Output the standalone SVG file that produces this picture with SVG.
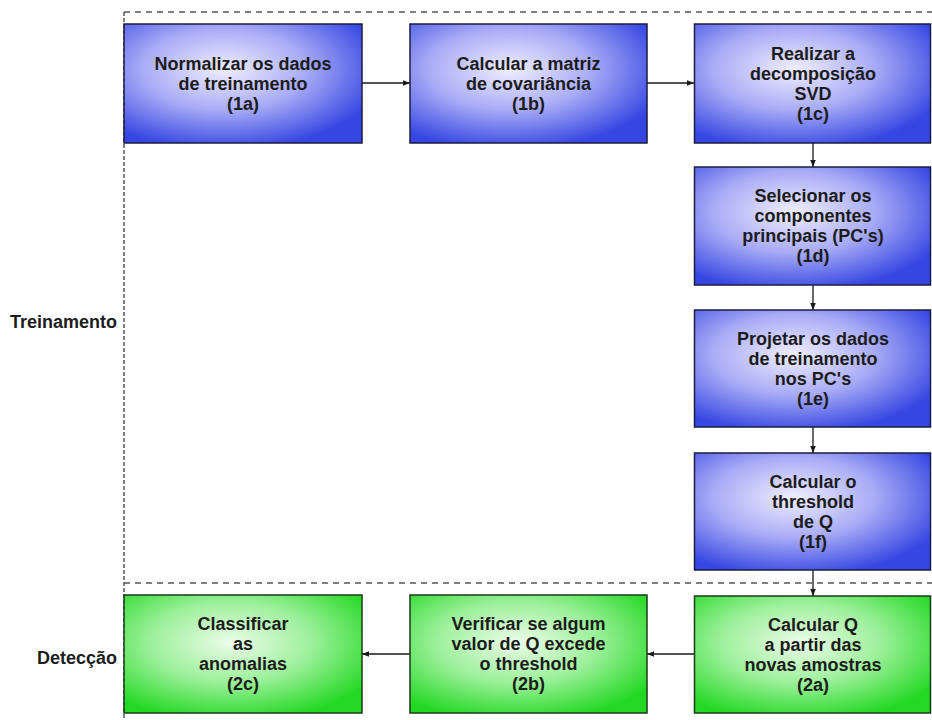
<svg xmlns="http://www.w3.org/2000/svg" width="932" height="720" viewBox="0 0 932 720">
<defs>
<radialGradient id="gBlue" cx="0.42" cy="0.38" r="0.68">
<stop offset="0" stop-color="#efeeff"/>
<stop offset="0.5" stop-color="#a9acf6"/>
<stop offset="1" stop-color="#3546e2"/>
</radialGradient>
<radialGradient id="gGreen" cx="0.45" cy="0.4" r="0.68">
<stop offset="0" stop-color="#edfcea"/>
<stop offset="0.5" stop-color="#9cf09a"/>
<stop offset="1" stop-color="#22d822"/>
</radialGradient>
<marker id="arr" viewBox="0 0 10 10" refX="10" refY="5" markerWidth="8" markerHeight="7" markerUnits="userSpaceOnUse" orient="auto">
<path d="M0,1 L10,5 L0,9 z" fill="#1a1a1a"/>
</marker>
</defs>
<style>
.blue{fill:url(#gBlue);stroke:#1c1c40;stroke-width:1.5}
.green{fill:url(#gGreen);stroke:#1c3a1c;stroke-width:1.5}
.t{font-family:"Liberation Sans",Arial,sans-serif;font-weight:bold;font-size:18px;fill:#1c1c1c;text-anchor:middle}
.lbl{font-family:"Liberation Sans",Arial,sans-serif;font-weight:bold;font-size:18px;fill:#1c1c1c;text-anchor:end}
.dashh{stroke:#555;stroke-width:1.5;stroke-dasharray:6 5;fill:none}
.dashv{stroke:#555;stroke-width:1.5;stroke-dasharray:4 2;fill:none}
.con{stroke:#1a1a1a;stroke-width:1.3;fill:none;marker-end:url(#arr)}
</style>
<rect width="932" height="720" fill="#fff"/>
<g id="frame">
<line class="dashh" x1="124" y1="12" x2="932" y2="12"/>
<line class="dashv" x1="124" y1="12" x2="124" y2="720"/>
<line class="dashh" x1="124" y1="583" x2="932" y2="583"/>
<text class="lbl" x="117" y="328">Treinamento</text>
<text class="lbl" x="117" y="664">Detecção</text>
</g>
<g id="connectors">
<line class="con" x1="362" y1="83" x2="410" y2="83"/>
<line class="con" x1="647" y1="83" x2="694" y2="83"/>
<line class="con" x1="813" y1="143" x2="813" y2="167"/>
<line class="con" x1="813" y1="285" x2="813" y2="310"/>
<line class="con" x1="813" y1="427" x2="813" y2="453"/>
<line class="con" x1="813" y1="570" x2="813" y2="596"/>
<line class="con" x1="694" y1="654" x2="647" y2="654"/>
<line class="con" x1="410" y1="654" x2="362" y2="654"/>
</g>
<g id="n1a">
<rect class="blue" x="124" y="24" width="238" height="119"/>
<text class="t" x="243"><tspan x="243" y="70">Normalizar os dados</tspan><tspan x="243" y="90">de treinamento</tspan><tspan x="243" y="110">(1a)</tspan></text>
</g>
<g id="n1b">
<rect class="blue" x="410" y="24" width="237" height="119"/>
<text class="t"><tspan x="528.5" y="70">Calcular a matriz</tspan><tspan x="528.5" y="90">de covariância</tspan><tspan x="528.5" y="110">(1b)</tspan></text>
</g>
<g id="n1c">
<rect class="blue" x="694.5" y="24" width="236" height="119"/>
<text class="t"><tspan x="813" y="60">Realizar a</tspan><tspan x="813" y="80">decomposição</tspan><tspan x="813" y="100">SVD</tspan><tspan x="813" y="120">(1c)</tspan></text>
</g>
<g id="n1d">
<rect class="blue" x="694.5" y="167" width="236" height="118"/>
<text class="t"><tspan x="813" y="202">Selecionar os</tspan><tspan x="813" y="222">componentes</tspan><tspan x="813" y="242">principais (PC's)</tspan><tspan x="813" y="262">(1d)</tspan></text>
</g>
<g id="n1e">
<rect class="blue" x="694.5" y="310" width="236" height="117"/>
<text class="t"><tspan x="813" y="345">Projetar os dados</tspan><tspan x="813" y="365">de treinamento</tspan><tspan x="813" y="385">nos PC's</tspan><tspan x="813" y="405">(1e)</tspan></text>
</g>
<g id="n1f">
<rect class="blue" x="694.5" y="453" width="236" height="117"/>
<text class="t"><tspan x="813" y="488">Calcular o</tspan><tspan x="813" y="508">threshold</tspan><tspan x="813" y="528">de Q</tspan><tspan x="813" y="548">(1f)</tspan></text>
</g>
<g id="n2a">
<rect class="green" x="694.5" y="596" width="236" height="117"/>
<text class="t"><tspan x="813" y="631">Calcular Q</tspan><tspan x="813" y="651">a partir das</tspan><tspan x="813" y="671">novas amostras</tspan><tspan x="813" y="691">(2a)</tspan></text>
</g>
<g id="n2b">
<rect class="green" x="410" y="595" width="237" height="118"/>
<text class="t"><tspan x="528.5" y="630">Verificar se algum</tspan><tspan x="528.5" y="650">valor de Q excede</tspan><tspan x="528.5" y="670">o threshold</tspan><tspan x="528.5" y="690">(2b)</tspan></text>
</g>
<g id="n2c">
<rect class="green" x="124" y="595" width="238" height="118"/>
<text class="t"><tspan x="243" y="630">Classificar</tspan><tspan x="243" y="650">as</tspan><tspan x="243" y="670">anomalias</tspan><tspan x="243" y="690">(2c)</tspan></text>
</g>
</svg>
